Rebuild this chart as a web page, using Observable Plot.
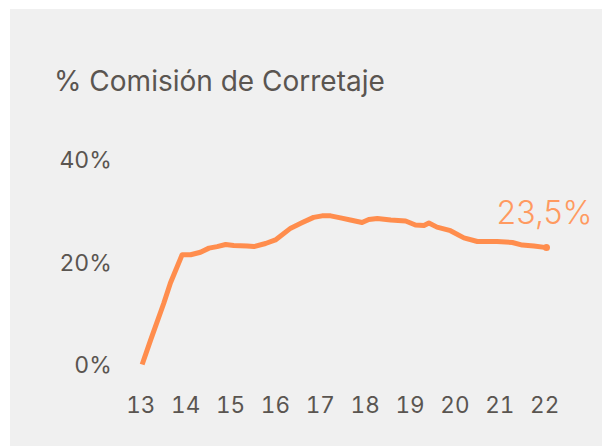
<!DOCTYPE html>
<html><head><meta charset="utf-8">
<script src="https://cdn.jsdelivr.net/npm/d3@7"></script>
<script src="https://cdn.jsdelivr.net/npm/@observablehq/plot@0.6"></script>
<style>
body{margin:0;background:#fff;}
#panel{position:absolute;left:10px;top:9px;width:592px;height:437px;background:#f0f0f0;overflow:hidden;font-family:Inter,sans-serif;}
#title{position:absolute;left:44px;top:58px;font-size:28px;line-height:1;color:#5a5550;white-space:nowrap;}
#chart{position:absolute;left:0;top:0;}
</style></head><body>
<div id="panel"><div id="chart"></div><div id="title">% Comisión de Corretaje</div></div>
<script>
const years = [13.03,13.22,13.51,13.66,13.92,14.11,14.33,14.52,14.70,14.89,15.07,15.37,15.52,15.78,16.00,16.34,16.60,16.85,17.04,17.23,17.45,17.67,17.93,18.08,18.27,18.57,18.90,19.12,19.31,19.42,19.60,19.90,20.20,20.50,20.94,21.28,21.50,21.76,22.04];
const values = [0.3,5.1,12.2,16.2,21.7,21.7,22.2,23.0,23.3,23.7,23.5,23.4,23.3,23.9,24.6,26.9,28.0,29.0,29.3,29.3,28.9,28.5,28.0,28.6,28.8,28.5,28.3,27.5,27.4,27.9,27.1,26.4,25.0,24.3,24.3,24.1,23.6,23.4,23.1];
const xTicks = [13,14,15,16,17,18,19,20,21,22];
const yTicks = [0,20,40];
const lastLabel = "23,5%";

const data = years.map((x, i) => ({x, y: values[i]}));
const last = [data[data.length - 1]];
const ink = "#5a5550";
const orange = "#ff8d4d";

const chart = Plot.plot({
  width: 592, height: 437,
  marginLeft: 130.3, marginRight: 57.8, marginTop: 151.5, marginBottom: 80.5,
  style: {background: "transparent", fontFamily: "Inter, sans-serif", color: ink, overflow: "visible"},
  x: {domain: [13, 22]},
  y: {domain: [0, 40]},
  marks: [
    Plot.axisX({ticks: xTicks, tickSize: 0, tickPadding: 31, fontSize: 22.5, label: null, tickFormat: d => String(d), fill: ink}),
    Plot.axisY({ticks: yTicks, tickSize: 0, tickPadding: 29, fontSize: 23, label: null, tickFormat: d => d + "%", fill: ink}),
    Plot.line(data, {x: "x", y: "y", stroke: orange, strokeWidth: 5, strokeLinejoin: "round", strokeLinecap: "butt", clip: false}),
    Plot.dot(last, {x: "x", y: "y", r: 3.5, fill: orange, stroke: null}),
    Plot.text(last, {x: "x", y: "y", text: () => lastLabel, dx: -2, dy: -34, fontSize: 32, fontWeight: 300, fill: "#ff9a60", textAnchor: "middle", lineAnchor: "middle"})
  ]
});
document.getElementById("chart").appendChild(chart);
</script>
</body></html>
